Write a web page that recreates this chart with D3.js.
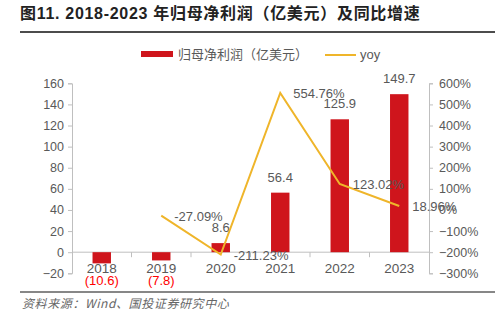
<!DOCTYPE html>
<html>
<head>
<meta charset="utf-8">
<script src="https://cdn.jsdelivr.net/npm/d3@7"></script>
<style>
  body { margin: 0; background: #fff; }
  svg { display: block; font-family: "Liberation Sans", Arial, "Noto Sans CJK SC", sans-serif; }
</style>
</head>
<body>
<svg id="chart" width="504" height="322"></svg>
<script>
var years = ["2018", "2019", "2020", "2021", "2022", "2023"],
    profit = [-10.6, -7.8, 8.6, 56.4, 125.9, 149.7],
    yoy = [null, -27.09, -211.23, 554.76, 123.02, 18.96],
    leftTicks = [-20, 0, 20, 40, 60, 80, 100, 120, 140, 160],
    rightTicks = [-300, -200, -100, 0, 100, 200, 300, 400, 500, 600];

var red = "#cf151c", gold = "#efb52a", grey = "#595959", axisCol = "#bfbfbf",
    cjk = '"Noto Sans CJK SC", sans-serif';

var svg = d3.select("#chart");

// title + rules
svg.append("text").attr("x", 20).attr("y", 19)
   .style("font-size", "16px").style("font-weight", "bold").style("fill", "#222")
   .style("letter-spacing", "0.7px")
   .style("font-family", '"Liberation Sans", "Noto Sans CJK SC", sans-serif')
   .text("图11. 2018-2023 年归母净利润（亿美元）及同比增速");
svg.append("line").attr("x1", 20).attr("x2", 495).attr("y1", 32).attr("y2", 32)
   .style("stroke", "#111").style("stroke-width", 1.5);
svg.append("line").attr("x1", 20).attr("x2", 495).attr("y1", 292).attr("y2", 292)
   .style("stroke", "#111").style("stroke-width", 1.2);
svg.append("text").attr("x", 22).attr("y", 308)
   .style("font-size", "12px").style("font-style", "italic").style("fill", "#666")
   .style("letter-spacing", "0.6px")
   .style("font-family", cjk)
   .text("资料来源：Wind、国投证券研究中心");

var x = d3.scaleBand().domain(years).range([72, 429]).padding(0),
    y = d3.scaleLinear().domain([-20, 160]).range([273.3, 83.3]),
    y2 = d3.scaleLinear().domain([-300, 600]).range([273.3, 83.3]),
    barW = x.bandwidth() * 0.31;

// left axis
var gl = svg.append("g").attr("transform", "translate(72,0)")
   .call(d3.axisLeft(y).tickValues(leftTicks).tickSize(4).tickPadding(4));
// right axis
var gr = svg.append("g").attr("transform", "translate(429,0)")
   .call(d3.axisRight(y2).tickValues(rightTicks).tickSize(4).tickPadding(6)
     .tickFormat(function(d) { return (d < 0 ? "\u2212" : "") + Math.abs(d) + "%"; }));
[gl, gr].forEach(function(g) {
  g.select(".domain").style("stroke", axisCol);
  g.selectAll(".tick line").style("stroke", axisCol);
  g.selectAll(".tick text").style("fill", grey).style("font-size", "12.5px")
   .style("font-family", '"Liberation Sans", Arial, sans-serif');
});

// zero line + category ticks
svg.append("line").attr("x1", 72).attr("x2", 429).attr("y1", y(0)).attr("y2", y(0))
   .style("stroke", axisCol);
svg.selectAll("line.ctick").data(years.slice(1)).enter().append("line")
   .attr("class", "ctick")
   .attr("x1", function(d) { return x(d); }).attr("x2", function(d) { return x(d); })
   .attr("y1", y(0)).attr("y2", y(0) + 5).style("stroke", axisCol);
svg.selectAll("text.cat").data(years).enter().append("text")
   .attr("class", "cat")
   .attr("x", function(d) { return x(d) + x.bandwidth() / 2; })
   .attr("y", 273).attr("text-anchor", "middle")
   .style("font-size", "13.5px").style("fill", grey)
   .text(function(d) { return d; });

// bars
svg.selectAll("rect.bar").data(profit).enter().append("rect")
   .attr("class", "bar")
   .attr("x", function(d, i) { return x(years[i]) + (x.bandwidth() - barW) / 2; })
   .attr("y", function(d) { return y(Math.max(0, d)); })
   .attr("width", barW)
   .attr("height", function(d) { return Math.abs(y(d) - y(0)); })
   .style("fill", red);

// bar labels
svg.selectAll("text.blab").data(profit).enter().append("text")
   .attr("class", "blab")
   .attr("x", function(d, i) { return x(years[i]) + x.bandwidth() / 2; })
   .attr("y", function(d) { return d >= 0 ? y(d) - 11 : 285; })
   .attr("text-anchor", "middle")
   .style("font-size", "13px")
   .style("fill", function(d) { return d >= 0 ? grey : "#ff0000"; })
   .text(function(d) { return d >= 0 ? d.toFixed(1) : "(" + Math.abs(d).toFixed(1) + ")"; });

// yoy line
var pts = yoy.map(function(v, i) { return {year: years[i], v: v}; })
             .filter(function(d) { return d.v !== null; });
var line = d3.line()
   .x(function(d) { return x(d.year) + x.bandwidth() / 2; })
   .y(function(d) { return y2(d.v); });
svg.append("path").datum(pts).attr("d", line)
   .style("fill", "none").style("stroke", gold).style("stroke-width", 2);
svg.selectAll("text.llab").data(pts).enter().append("text")
   .attr("class", "llab")
   .attr("x", function(d) { return x(d.year) + x.bandwidth() / 2 + 13; })
   .attr("y", function(d) { return y2(d.v) + 5; })
   .style("font-size", "13px").style("fill", grey)
   .text(function(d) { return d.v.toFixed(2) + "%"; });

// legend
svg.append("rect").attr("x", 141).attr("y", 51).attr("width", 32).attr("height", 6)
   .style("fill", red);
svg.append("text").attr("x", 178).attr("y", 59)
   .style("font-size", "13px").style("fill", grey).style("font-family", cjk)
   .text("归母净利润（亿美元）");
svg.append("line").attr("x1", 325).attr("x2", 356).attr("y1", 55).attr("y2", 55)
   .style("stroke", gold).style("stroke-width", 2);
svg.append("text").attr("x", 360).attr("y", 59)
   .style("font-size", "13px").style("fill", grey)
   .text("yoy");
</script>
</body>
</html>
